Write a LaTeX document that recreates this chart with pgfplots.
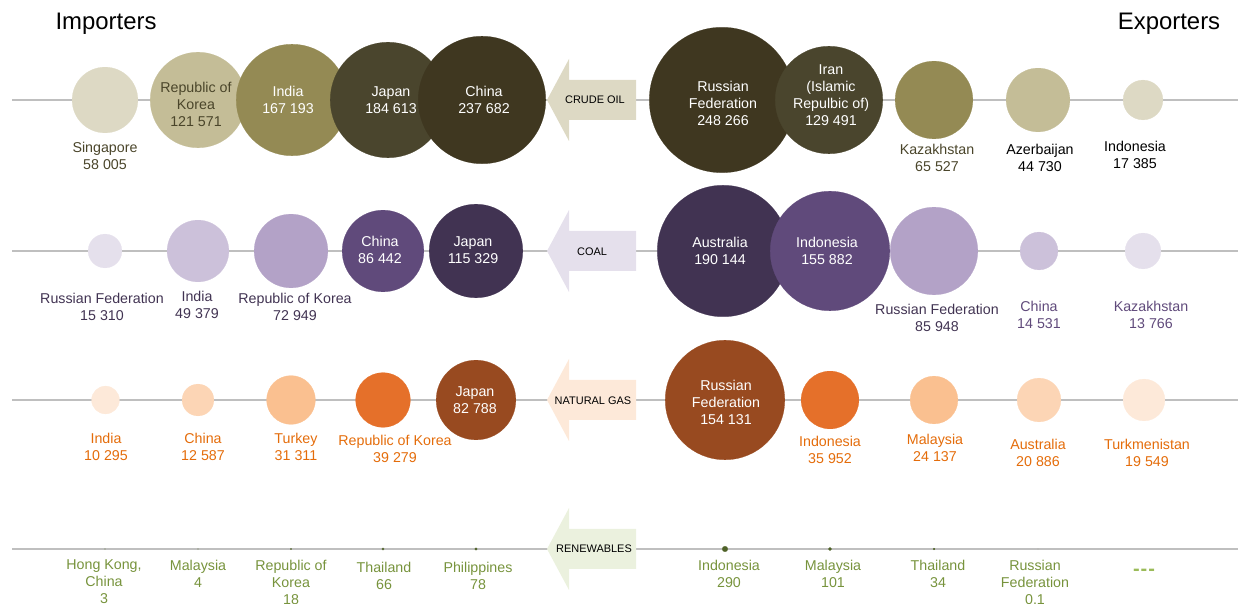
\documentclass[border=0pt]{standalone}
\usepackage{pgfplots}
\usepackage{pgfplotstable}
\pgfplotsset{compat=1.18}
\usepackage{fontspec}
\setmainfont{Liberation Sans}
% crude oil
\definecolor{oilA}{HTML}{3F3720}
\definecolor{oilB}{HTML}{4A452D}
\definecolor{oilC}{HTML}{948A54}
\definecolor{oilD}{HTML}{C4BD97}
\definecolor{oilE}{HTML}{DDD9C4}
\definecolor{oilTxt}{HTML}{4A452A}
% coal
\definecolor{coalA}{HTML}{413352}
\definecolor{coalB}{HTML}{604A7B}
\definecolor{coalC}{HTML}{B3A2C7}
\definecolor{coalD}{HTML}{CCC1DA}
\definecolor{coalE}{HTML}{E5E0EC}
% gas
\definecolor{gasA}{HTML}{984A20}
\definecolor{gasB}{HTML}{E5702A}
\definecolor{gasC}{HTML}{FAC090}
\definecolor{gasD}{HTML}{FCD5B5}
\definecolor{gasE}{HTML}{FDE9D9}
\definecolor{gasTxt}{HTML}{E46C0A}
% renewables
\definecolor{renA}{HTML}{4F6228}
\definecolor{renTxt}{HTML}{77933C}
\definecolor{renDash}{HTML}{9BBB59}
\definecolor{renArrow}{HTML}{EBF1DE}
\definecolor{lineGray}{HTML}{BFBFBF}

\pgfplotstableread{
x y r c
105 100 33 oilE
198 100 48 oilD
292 100 56 oilC
388 100 58 oilB
482 100 64 oilA
722 100 73 oilA
829 100 54 oilB
934 100 39 oilC
1038 100 32 oilD
1143 100 20 oilE
}\crude

\pgfplotstableread{
x y r c
105 251 17 coalE
198 251 31 coalD
291 251 37 coalC
383 251 41 coalB
476 251 47 coalA
723 251 66 coalA
830 251 60 coalB
934 251 44 coalC
1039 251 19 coalD
1143 251 18 coalE
}\coal

\pgfplotstableread{
x y r c
105.5 400 14 gasE
198 400 16 gasD
291 400 24.5 gasC
383 400 27.5 gasB
476 400 40 gasA
725 400 60 gasA
830 400 29 gasB
934 400 24 gasC
1039 400 22 gasD
1144 400 21 gasE
}\gas

\pgfplotstableread{
x y r c
105 549 0.3 renA
198 549 0.35 renA
291 549 0.7 renA
383 549 1.2 renA
476 549 1.3 renA
725 549 2.8 renA
830 549 1.7 renA
934 549 1.0 renA
1038 549 0.05 renA
}\renew

\pgfplotsset{
  bubble/.style={scatter, only marks, mark=*,
    point meta=explicit symbolic,
    mark options={line width=0.2pt},
    scatter/classes={
      oilA={draw=oilA,fill=oilA}, oilB={draw=oilB,fill=oilB}, oilC={draw=oilC,fill=oilC},
      oilD={draw=oilD,fill=oilD}, oilE={draw=oilE,fill=oilE},
      coalA={draw=coalA,fill=coalA}, coalB={draw=coalB,fill=coalB}, coalC={draw=coalC,fill=coalC},
      coalD={draw=coalD,fill=coalD}, coalE={draw=coalE,fill=coalE},
      gasA={draw=gasA,fill=gasA}, gasB={draw=gasB,fill=gasB}, gasC={draw=gasC,fill=gasC},
      gasD={draw=gasD,fill=gasD}, gasE={draw=gasE,fill=gasE},
      renA={draw=renA,fill=renA}},
    visualization depends on={\thisrow{r} \as \rad},
    scatter/@pre marker code/.append style={/tikz/mark size=\rad pt}},
  gline/.style={color=lineGray, line width=1.5pt, no marks},
}
\tikzset{
  lbl/.style={font=\fontsize{14.3}{17}\selectfont, align=center, inner sep=0pt},
  alb/.style={font=\fontsize{11}{13}\selectfont, inner sep=0pt, black},
}

\begin{document}
\begin{tikzpicture}
\begin{axis}[set layers=standard, width=1238bp, height=604bp, scale only axis,
  xmin=0, xmax=1238, ymin=0, ymax=604, y dir=reverse,
  hide axis, clip=false]
% base lines
\addplot[gline] coordinates {(12,100) (1238,100)};
\addplot[gline] coordinates {(12,251) (1238,251)};
\addplot[gline] coordinates {(12,400) (1238,400)};
\addplot[gline] coordinates {(12,549) (1238,549)};
% arrows
\addplot[fill=oilE, draw=none] coordinates {(547,100) (569,59) (569,80) (636,80) (636,120) (569,120) (569,141)} --cycle;
\addplot[fill=coalE, draw=none] coordinates {(547,251) (569,210) (569,231) (636,231) (636,271) (569,271) (569,292)} --cycle;
\addplot[fill=gasE, draw=none] coordinates {(547,400) (569,359) (569,380) (636,380) (636,420) (569,420) (569,441)} --cycle;
\addplot[fill=renArrow, draw=none] coordinates {(547,549) (569,508) (569,529) (636,529) (636,569) (569,569) (569,590)} --cycle;
% bubbles
\addplot[bubble] table[meta=c] {\crude};
\addplot[bubble] table[meta=c] {\coal};
\addplot[bubble] table[meta=c] {\gas};
\addplot[bubble] table[meta=c] {\renew};
\begin{pgfonlayer}{axis foreground}
% titles
\node[font=\fontsize{24}{28}\selectfont, inner sep=0pt] at (axis cs:106,24) {Importers};
\node[font=\fontsize{24}{28}\selectfont, inner sep=0pt] at (axis cs:1169,24) {Exporters};
% arrow labels
\node[alb] at (axis cs:595,100) {CRUDE OIL};
\node[alb] at (axis cs:592,252) {COAL};
\node[alb] at (axis cs:593,401) {NATURAL GAS};
\node[alb] at (axis cs:594,549) {RENEWABLES};
% crude oil labels
\node[lbl, oilTxt] at (axis cs:105,156) {Singapore\\58 005};
\node[lbl, oilTxt] at (axis cs:196,104) {Republic of\\Korea\\121 571};
\node[lbl, white] at (axis cs:288,100) {India\\167 193};
\node[lbl, white] at (axis cs:391,100) {Japan\\184 613};
\node[lbl, white] at (axis cs:484,100) {China\\237 682};
\node[lbl, white] at (axis cs:723,103) {Russian\\Federation\\248 266};
\node[lbl, white] at (axis cs:831,95) {Iran\\(Islamic\\Repulbic of)\\129 491};
\node[lbl, oilTxt] at (axis cs:937,158) {Kazakhstan\\65 527};
\node[lbl, black] at (axis cs:1040,158) {Azerbaijan\\44 730};
\node[lbl, black] at (axis cs:1135,155) {Indonesia\\17 385};
% coal labels
\node[lbl, coalA] at (axis cs:102,307) {Russian Federation\\15 310};
\node[lbl, coalA] at (axis cs:197,305) {India\\49 379};
\node[lbl, coalA] at (axis cs:295,307) {Republic of Korea\\72 949};
\node[lbl, white] at (axis cs:380,250) {China\\86 442};
\node[lbl, white] at (axis cs:473,250) {Japan\\115 329};
\node[lbl, white] at (axis cs:720,251) {Australia\\190 144};
\node[lbl, white] at (axis cs:827,251) {Indonesia\\155 882};
\node[lbl, coalA] at (axis cs:937,318) {Russian Federation\\85 948};
\node[lbl, coalB] at (axis cs:1039,315) {China\\14 531};
\node[lbl, coalB] at (axis cs:1151,315) {Kazakhstan\\13 766};
% gas labels
\node[lbl, gasTxt] at (axis cs:106,447) {India\\10 295};
\node[lbl, gasTxt] at (axis cs:203,447) {China\\12 587};
\node[lbl, gasTxt] at (axis cs:296,447) {Turkey\\31 311};
\node[lbl, gasTxt] at (axis cs:395,449) {Republic of Korea\\39 279};
\node[lbl, white] at (axis cs:475,400) {Japan\\82 788};
\node[lbl, white] at (axis cs:726,402) {Russian\\Federation\\154 131};
\node[lbl, gasTxt] at (axis cs:830,450) {Indonesia\\35 952};
\node[lbl, gasTxt] at (axis cs:935,448) {Malaysia\\24 137};
\node[lbl, gasTxt] at (axis cs:1038,453) {Australia\\20 886};
\node[lbl, gasTxt] at (axis cs:1147,453) {Turkmenistan\\19 549};
% renewables labels
\node[lbl, renTxt] at (axis cs:104,582) {Hong Kong,\\China\\3};
\node[lbl, renTxt] at (axis cs:198,574) {Malaysia\\4};
\node[lbl, renTxt] at (axis cs:291,582) {Republic of\\Korea\\18};
\node[lbl, renTxt] at (axis cs:384,576) {Thailand\\66};
\node[lbl, renTxt] at (axis cs:478,576) {Philippines\\78};
\node[lbl, renTxt] at (axis cs:729,574) {Indonesia\\290};
\node[lbl, renTxt] at (axis cs:833,574) {Malaysia\\101};
\node[lbl, renTxt] at (axis cs:938,574) {Thailand\\34};
\node[lbl, renTxt] at (axis cs:1035,582) {Russian\\Federation\\0.1};
\node[inner sep=0pt, renDash, font=\fontsize{20}{20}\selectfont\bfseries] at (axis cs:1144,572) {-\kern1pt-\kern1pt-};
\end{pgfonlayer}
\end{axis}
\pgfresetboundingbox
\path[use as bounding box] (0,0) rectangle (1238bp,604bp);
\end{tikzpicture}
\end{document}
